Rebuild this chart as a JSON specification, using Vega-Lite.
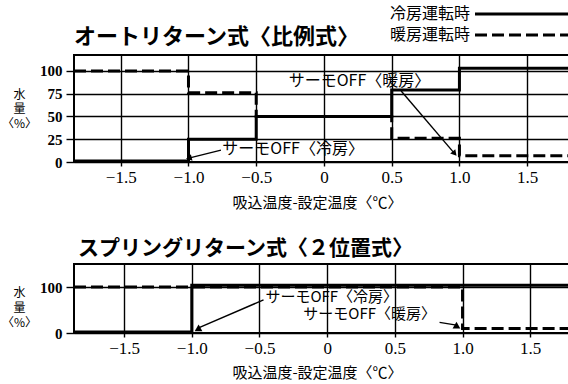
{
  "$schema": "https://vega.github.io/schema/vega-lite/v6.json",
  "background": "white",
  "padding": {"left": 0, "top": 6, "right": 0, "bottom": 0},
  "spacing": 26,
  "config": {
    "view": {"stroke": "black", "strokeWidth": 2},
    "font": "Noto Sans CJK JP",
    "axis": {
      "domain": false, "grid": true, "gridColor": "black", "gridWidth": 1.4, "gridOpacity": 1, "labelOverlap": false,
      "tickColor": "black", "tickWidth": 1.4, "labelColor": "black", "labelFont": "Liberation Serif",
      "titleColor": "black", "titleFont": "Noto Sans CJK JP", "titleFontWeight": "normal"
    },
    "title": {"font": "Noto Sans CJK JP", "fontWeight": "bold", "color": "black", "anchor": "start", "frame": "group", "baseline": "bottom"}
  },
  "datasets": {
    "top": [
      {"series": "冷房運転時", "x": -1.845, "y": 1},
      {"series": "冷房運転時", "x": -1.0, "y": 25},
      {"series": "冷房運転時", "x": -0.5, "y": 50},
      {"series": "冷房運転時", "x": 0.5, "y": 79},
      {"series": "冷房運転時", "x": 1.0, "y": 103},
      {"series": "冷房運転時", "x": 2.2, "y": 103},
      {"series": "暖房運転時", "x": -1.845, "y": 100},
      {"series": "暖房運転時", "x": -1.0, "y": 76},
      {"series": "暖房運転時", "x": -0.5, "y": 50},
      {"series": "暖房運転時", "x": 0.5, "y": 26},
      {"series": "暖房運転時", "x": 1.0, "y": 7},
      {"series": "暖房運転時", "x": 2.2, "y": 7}
    ],
    "bottom": [
      {"series": "冷房運転時", "x": -1.87, "y": 2},
      {"series": "冷房運転時", "x": -1.0, "y": 104},
      {"series": "冷房運転時", "x": 2.2, "y": 104},
      {"series": "暖房運転時", "x": -1.87, "y": 100},
      {"series": "暖房運転時", "x": 1.0, "y": 10},
      {"series": "暖房運転時", "x": 2.2, "y": 10}
    ],
    "notesTop": [
      {"x": -0.75, "y": 14, "label": "サーモOFF〈冷房〉"},
      {"x": -0.26, "y": 89, "label": "サーモOFF〈暖房〉"}
    ],
    "arrowsTop": [
      {"id": 1, "x": -0.99, "y": 4.5, "x2": -0.76, "y2": 13},
      {"id": 2, "x": 0.96, "y": 10, "x2": 0.57, "y2": 78}
    ],
    "notesBottom": [
      {"x": -0.456, "y": 79, "label": "サーモOFF〈冷房〉"},
      {"x": -0.176, "y": 41, "label": "サーモOFF〈暖房〉"}
    ],
    "arrowsBottom": [
      {"id": 1, "x": -0.95, "y": 11, "x2": -0.47, "y2": 72},
      {"id": 2, "x": 0.955, "y": 17, "x2": 0.83, "y2": 23}
    ]
  },
  "vconcat": [
    {
      "width": 548,
      "height": 107,
      "title": {"text": "オートリターン式〈比例式〉", "dx": 0, "fontSize": 22, "offset": 6},
      "encoding": {
        "x": {"field": "x", "type": "quantitative", "scale": {"domain": [-1.845, 2.2], "nice": false, "zero": false},
          "axis": {"values": [-1.5, -1, -0.5, 0, 0.5, 1, 1.5], "tickSize": 4, "labelPadding": 3, "labelFontSize": 17,
            "labelExpr": "datum.value == 0 ? '0' : format(datum.value, '.1f')",
            "title": "吸込温度-設定温度〈℃〉", "titleFontSize": 15, "titleX": 243, "titleY": 40, "titleAlign": "center", "titleBaseline": "middle"}},
        "y": {"field": "y", "type": "quantitative", "scale": {"domain": [0, 117.5], "nice": false},
          "axis": {"values": [0, 25, 50, 75, 100], "tickSize": 8, "labelPadding": 4, "labelFontSize": 15, "labelFontWeight": "bold",
            "title": ["水", "量", "〈%〉"], "titleAngle": 0, "titleAlign": "center", "titleBaseline": "middle", "titleX": -55, "titleY": 39, "titleFontSize": 12, "titleLineHeight": 14.5}}
      },
      "layer": [
        {
          "data": {"name": "top"},
          "transform": [{"filter": "datum.series === '暖房運転時'"}],
          "mark": {"type": "line", "interpolate": "step-after", "strokeWidth": 3, "color": "black", "clip": true},
          "encoding": {
            "strokeDash": {"field": "series", "type": "nominal",
              "scale": {"domain": ["冷房運転時", "暖房運転時"], "range": [[1, 0], [12, 5]]},
              "legend": {"title": null, "orient": "none", "legendX": 390, "legendY": -49, "padding": 0,
                "symbolType": "M0.6,0H26.6", "symbolSize": 100, "symbolStrokeWidth": 3, "symbolStrokeColor": "black", "symbolOffset": 0,
                "labelAlign": "right", "labelOffset": -10, "labelLimit": 0, "labelFont": "Noto Sans CJK JP", "labelFontSize": 16, "labelColor": "black", "rowPadding": 5}}
          }
        },
        {
          "data": {"name": "top"},
          "transform": [{"filter": "datum.series === '冷房運転時'"}],
          "mark": {"type": "line", "interpolate": "step-after", "strokeWidth": 3, "color": "black", "clip": true},
          "encoding": {
            "strokeDash": {"field": "series", "type": "nominal"}
          }
        },
        {
          "data": {"name": "arrowsTop"},
          "mark": {"type": "rule", "strokeWidth": 1.4, "color": "black"},
          "encoding": {
            "x2": {"field": "x2"},
            "y2": {"field": "y2"}
          }
        },
        {
          "data": {"name": "arrowsTop"},
          "transform": [{"filter": "datum.id === 1"}],
          "mark": {"type": "point", "shape": "triangle", "filled": true, "size": 45, "color": "black", "opacity": 1, "angle": 256},
          "encoding": {}
        },
        {
          "data": {"name": "arrowsTop"},
          "transform": [{"filter": "datum.id === 2"}],
          "mark": {"type": "point", "shape": "triangle", "filled": true, "size": 45, "color": "black", "opacity": 1, "angle": 139.5},
          "encoding": {}
        },
        {
          "data": {"name": "notesTop"},
          "mark": {"type": "text", "align": "left", "baseline": "middle", "font": "Noto Sans CJK JP", "fontSize": 16, "color": "black"},
          "encoding": {
            "text": {"field": "label"}
          }
        }
      ]
    },
    {
      "width": 551,
      "height": 69,
      "title": {"text": "スプリングリターン式〈２位置式〉", "dx": 4, "fontSize": 21, "offset": 5},
      "encoding": {
        "x": {"field": "x", "type": "quantitative", "scale": {"domain": [-1.87, 2.2], "nice": false, "zero": false},
          "axis": {"values": [-1.5, -1, -0.5, 0, 0.5, 1, 1.5], "tickSize": 4, "labelPadding": 3, "labelFontSize": 17,
            "labelExpr": "datum.value == 0 ? '0' : format(datum.value, '.1f')",
            "title": "吸込温度-設定温度〈℃〉", "titleFontSize": 15, "titleX": 243, "titleY": 39, "titleAlign": "center", "titleBaseline": "middle"}},
        "y": {"field": "y", "type": "quantitative", "scale": {"domain": [0, 150], "nice": false},
          "axis": {"values": [0, 100], "tickSize": 8, "labelPadding": 4, "labelFontSize": 15, "labelFontWeight": "bold",
            "title": ["水", "量", "〈%〉"], "titleAngle": 0, "titleAlign": "center", "titleBaseline": "middle", "titleX": -55, "titleY": 28, "titleFontSize": 12, "titleLineHeight": 15}}
      },
      "layer": [
        {
          "data": {"name": "bottom"},
          "transform": [{"filter": "datum.series === '暖房運転時'"}],
          "mark": {"type": "line", "interpolate": "step-after", "strokeWidth": 3, "color": "black", "clip": true},
          "encoding": {
            "strokeDash": {"field": "series", "type": "nominal"}
          }
        },
        {
          "data": {"name": "bottom"},
          "transform": [{"filter": "datum.series === '冷房運転時'"}],
          "mark": {"type": "line", "interpolate": "step-after", "strokeWidth": 3, "color": "black", "clip": true},
          "encoding": {
            "strokeDash": {"field": "series", "type": "nominal"}
          }
        },
        {
          "data": {"name": "arrowsBottom"},
          "mark": {"type": "rule", "strokeWidth": 1.4, "color": "black"},
          "encoding": {
            "x2": {"field": "x2"},
            "y2": {"field": "y2"}
          }
        },
        {
          "data": {"name": "arrowsBottom"},
          "mark": {"type": "point", "shape": "triangle-up", "filled": true, "size": 60, "color": "black", "opacity": 1},
          "encoding": {}
        },
        {
          "data": {"name": "notesBottom"},
          "mark": {"type": "text", "align": "left", "baseline": "middle", "font": "Noto Sans CJK JP", "fontSize": 15, "color": "black"},
          "encoding": {
            "text": {"field": "label"}
          }
        }
      ]
    }
  ]
}
